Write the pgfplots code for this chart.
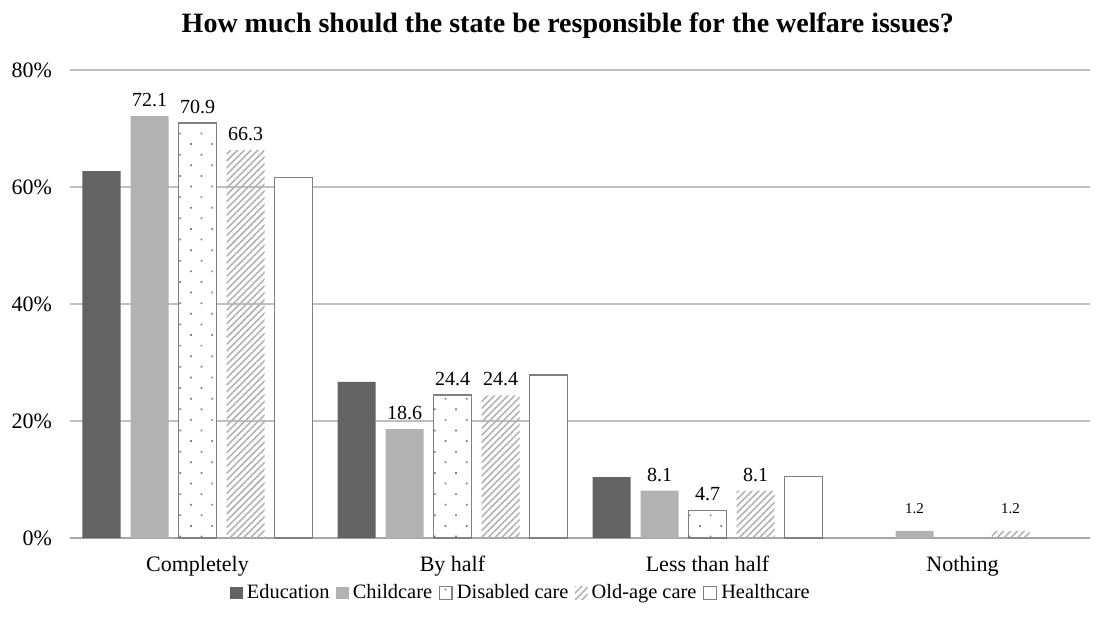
\documentclass[border=0pt]{standalone}
\usepackage{pgfplots}
\pgfplotsset{compat=1.18}
\usepackage{fontspec}
\setmainfont{Liberation Serif}
\usetikzlibrary{patterns,patterns.meta}
\definecolor{edu}{HTML}{636363}
\definecolor{child}{HTML}{B2B2B2}
\definecolor{brd}{HTML}{808080}
\definecolor{grid}{HTML}{A6A6A6}
\begin{document}
\begin{tikzpicture}
\begin{axis}[
  scale only axis,
  width=510pt, height=234pt,
  ybar=5pt, bar width=19pt,
  xmin=-0.5, xmax=3.5,
  ymin=0, ymax=80,
  xtick={0,1,2,3},
  xticklabels={Completely,By half,Less than half,Nothing},
  ytick={0,20,40,60,80},
  yticklabel={\pgfmathprintnumber{\tick}\%},
  /pgf/number format/assume math mode=true,
  ymajorgrids, xmajorgrids=false, grid style={grid, line width=0.8pt},
  axis lines*=left,
  y axis line style={draw=none},
  x axis line style={grid, line width=0.8pt, -},
  major tick length=0pt,
  tick label style={font=\fontsize{11}{13}\selectfont},
  xticklabel style={yshift=-5.5pt},
  yticklabel style={xshift=-5.5pt},
  title={How much should the state be responsible for the welfare issues?},
  title style={font=\fontsize{14}{16}\selectfont\bfseries, at={(0.488,1)}, anchor=south, yshift=6pt},
  legend columns=5,
  legend style={draw=none, at={(0.443,0)}, anchor=north, yshift=-21pt, font=\fontsize{10.2}{12}\selectfont,
    inner sep=0pt,
    /tikz/every even column/.append style={column sep=1.2pt},
    /tikz/every odd column/.append style={column sep=0pt}},
  legend image code/.code={\path[#1] (0pt,-3.2pt) rectangle (6.4pt,3.2pt);},
  point meta=explicit symbolic,
  every node near coord/.append style={font=\fontsize{10}{12}\selectfont, yshift=1pt},
]
\addplot[fill=edu, draw=none] coordinates {(0,62.7) (1,26.7) (2,10.4)};
\addlegendentry{Education}
\addplot[fill=child, draw=none, nodes near coords] coordinates {(0,72.1) [72.1] (1,18.6) [18.6] (2,8.1) [8.1] (3,1.2) [{\raisebox{4pt}{\fontsize{7.5}{9}\selectfont 1.2}}]};
\addlegendentry{Childcare}
\addplot[draw=brd, line width=0.8pt, fill=white, postaction={pattern={Dots[angle=45, distance=7.5pt, radius=0.6pt]}, pattern color=brd}, nodes near coords] coordinates {(0,70.9) [70.9] (1,24.4) [24.4] (2,4.7) [4.7]};
\addlegendentry{Disabled care}
\addplot[draw=none, pattern={Lines[angle=45, distance=2.4pt, line width=0.8pt]}, pattern color=child, nodes near coords] coordinates {(0,66.3) [66.3] (1,24.4) [24.4] (2,8.1) [8.1] (3,1.2) [{\raisebox{4pt}{\fontsize{7.5}{9}\selectfont 1.2}}]};
\addlegendentry{Old-age care}
\addplot[draw=brd, line width=0.8pt, fill=white] coordinates {(0,61.6) (1,27.9) (2,10.5)};
\addlegendentry{Healthcare}
\end{axis}
\path ([shift={(-35pt,-47pt)}]current axis.south west) rectangle ([shift={(10.5pt,35pt)}]current axis.north east);
\end{tikzpicture}
\end{document}
